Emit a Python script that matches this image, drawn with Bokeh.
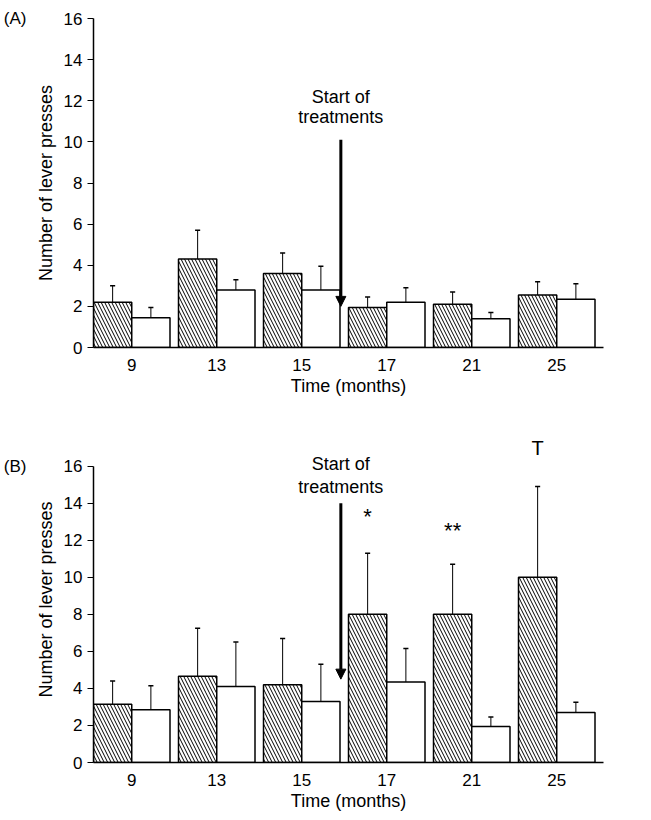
from bokeh.plotting import figure
from bokeh.layouts import column
from bokeh.models import Range1d, FixedTicker, Label, Arrow, NormalHead, LinearAxis
from bokeh.embed import file_html
from bokeh.resources import INLINE

months = ["9", "13", "15", "17", "21", "25"]
a_hatch = [2.2, 4.3, 3.6, 1.95, 2.1, 2.55]
a_hatch_err = [3.0, 5.7, 4.6, 2.45, 2.7, 3.2]
a_open = [1.45, 2.8, 2.8, 2.2, 1.4, 2.35]
a_open_err = [1.95, 3.3, 3.95, 2.9, 1.7, 3.1]
b_hatch = [3.15, 4.65, 4.2, 8.0, 8.0, 10.0]
b_hatch_err = [4.4, 7.25, 6.7, 11.3, 10.7, 14.9]
b_open = [2.85, 4.1, 3.3, 4.35, 1.95, 2.7]
b_open_err = [4.15, 6.5, 5.3, 6.15, 2.45, 3.25]
# significance marks in panel B: (group index, text, y position)
marks_b = [(3, "*", 13.3), (4, "**", 12.5), (5, "T", 17.0)]

FONT = "Liberation Sans"


def panel(tag, hatch, hatch_err, opn, opn_err, arrow, text_y, height, top, ymax, marks):
    p = figure(width=625, height=height, output_backend="svg", toolbar_location=None,
               x_range=Range1d(-0.45, 5.55), y_range=Range1d(0, ymax),
               min_border_left=82, min_border_right=22, min_border_top=top,
               min_border_bottom=46)
    p.outline_line_color = None
    p.grid.visible = False
    xs = list(range(len(months)))
    xh = [x - 0.225 for x in xs]
    xo = [x + 0.225 for x in xs]
    p.segment(xh, hatch, xh, hatch_err, line_color="black", line_width=1)
    p.segment(xo, opn, xo, opn_err, line_color="black", line_width=1)
    p.segment([x - 0.03 for x in xh], hatch_err, [x + 0.03 for x in xh], hatch_err,
              line_color="black", line_width=1.5)
    p.segment([x - 0.03 for x in xo], opn_err, [x + 0.03 for x in xo], opn_err,
              line_color="black", line_width=1.5)
    p.vbar(x=xh, top=hatch, width=0.45, fill_color="white", line_color="black",
           line_width=1.5, hatch_pattern="\\", hatch_color="black",
           hatch_scale=7, hatch_weight=1)
    p.vbar(x=xo, top=opn, width=0.45, fill_color="white", line_color="black",
           line_width=1.5)
    p.yaxis.ticker = FixedTicker(ticks=list(range(0, 17, 2)))
    p.yaxis.bounds = (0, 16)
    p.xaxis.ticker = FixedTicker(ticks=xs)
    p.xaxis.major_label_overrides = {i: m for i, m in enumerate(months)}
    p.xaxis.major_tick_line_color = None
    p.xaxis.minor_tick_line_color = None
    p.yaxis.minor_tick_line_color = None
    p.yaxis.major_tick_out = 6
    p.yaxis.major_tick_in = 0
    p.axis.axis_line_width = 1.5
    p.axis.major_label_text_font = FONT
    p.axis.major_label_text_font_size = "17px"
    p.axis.major_label_text_color = "black"
    p.axis.axis_label_text_font = FONT
    p.axis.axis_label_text_font_size = "18px"
    p.axis.axis_label_text_font_style = "normal"
    p.axis.axis_label_text_color = "black"
    p.xaxis.axis_label = "Time (months)"
    p.xaxis.axis_label_standoff = 2
    p.yaxis.axis_label = "Number of lever presses"
    # panel tag as an extra bare axis sitting left of the y axis label
    tag_axis = LinearAxis(ticker=FixedTicker(ticks=[16]),
                          major_label_overrides={16: tag},
                          axis_line_color=None, major_tick_line_color=None,
                          minor_tick_line_color=None,
                          major_label_text_font=FONT, major_label_text_font_size="17px",
                          major_label_text_color="black", major_label_standoff=0)
    p.add_layout(tag_axis, "left")
    p.add_layout(Arrow(end=NormalHead(size=10, fill_color="black", line_color="black"),
                       x_start=2.46, y_start=arrow[0], x_end=2.46, y_end=arrow[1],
                       line_width=3))
    for t, yy in zip(["Start of", "treatments"], text_y):
        p.add_layout(Label(x=2.46, y=yy, text=t, text_align="center",
                           text_baseline="middle", text_font=FONT,
                           text_font_size="18px", text_color="black"))
    for i, s, yy in marks:
        p.add_layout(Label(x=xh[i], y=yy, text=s, text_align="center",
                           text_baseline="middle", text_font=FONT, text_color="black",
                           text_font_size="20px" if s == "T" else "22px"))
    return p


pa = panel("(A)", a_hatch, a_hatch_err, a_open, a_open_err, (10.1, 2.0),
           (12.2, 11.2), 398, 18, 16, [])
pb = panel("(B)", b_hatch, b_hatch_err, b_open, b_open_err, (14.0, 4.5),
           (16.1, 14.9), 415, 38, 17.6, marks_b)

p = column(pa, pb, spacing=0)
open("out.html", "w").write(file_html(p, INLINE))
